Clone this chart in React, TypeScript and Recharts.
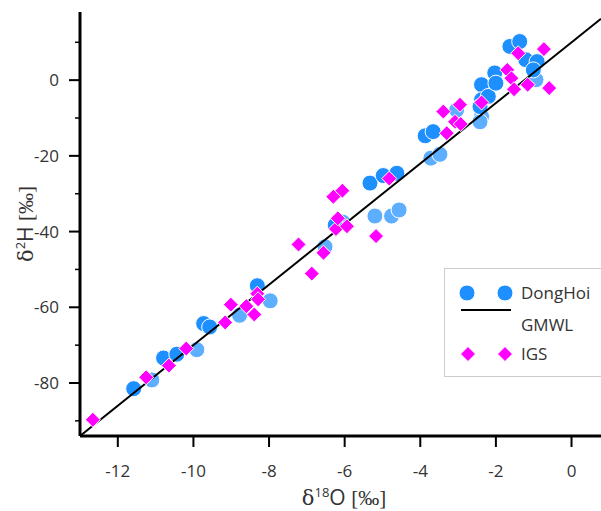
import { ScatterChart, Scatter, XAxis, YAxis, Legend } from "recharts";

// DongHoi (dark points)
const dongHoiX = [-11.58, -10.79, -10.44, -9.73, -9.57, -8.31, -6.25, -5.33, -4.98, -4.62, -3.87, -3.66, -2.38, -2.38, -2.2, -2.03, -2.0, -1.63, -1.37, -1.21, -0.91, -1.01, -2.42];
const dongHoiY = [-81.5, -73.4, -72.4, -64.3, -65.2, -54.3, -38.3, -27.2, -25.2, -24.6, -14.7, -13.6, -1.2, -5.2, -4.3, 1.9, -0.8, 8.9, 10.2, 5.4, 4.9, 2.7, -7.0];

// DongHoi (light points)
const dongHoiLightX = [-11.1, -9.91, -8.78, -7.97, -6.05, -6.52, -5.2, -4.76, -4.56, -3.72, -3.48, -2.38, -2.42, -0.94, -3.04];
const dongHoiLightY = [-79.2, -71.2, -62.1, -58.3, -37.5, -44.0, -35.9, -35.9, -34.3, -20.6, -19.6, -9.6, -11.0, 0.1, -7.9];

// IGS
const igsX = [-12.66, -11.25, -10.65, -10.19, -9.16, -9.01, -8.6, -8.39, -8.31, -8.29, -7.22, -6.87, -6.56, -6.23, -6.18, -5.94, -6.3, -6.06, -5.17, -4.82, -3.39, -2.95, -3.08, -2.93, -3.3, -2.38, -1.7, -1.59, -1.52, -1.16, -0.59, -1.41, -0.73];
const igsY = [-89.7, -78.5, -75.4, -70.9, -64.0, -59.3, -59.7, -61.9, -56.4, -57.9, -43.4, -51.1, -45.6, -39.3, -36.5, -38.6, -30.8, -29.2, -41.2, -26.0, -8.3, -6.5, -11.0, -11.6, -14.0, -5.9, 2.7, 0.5, -2.4, -1.2, -2.1, 7.1, 8.2];

// GMWL end points
const gmwlX = [-13, 0.78];
const gmwlY = [-94, 16.2];

const xTicks = [-12, -10, -8, -6, -4, -2, 0];
const yTicks = [-90, -80, -70, -60, -50, -40, -30, -20, -10, 0, 10];
const yLabels = [-80, -60, -40, -20, 0];

const toPoints = (xs: number[], ys: number[]) => xs.map((x, i) => ({ x, y: ys[i] }));

const dongHoi = toPoints(dongHoiX, dongHoiY);
const dongHoiLight = toPoints(dongHoiLightX, dongHoiLightY);
const igs = toPoints(igsX, igsY);
const gmwl = toPoints(gmwlX, gmwlY);

const FONT = "'Open Sans', sans-serif";
const TEXT = "#333";
const BLUE = "#1E8FFF";
const LIGHT_BLUE = "#5EAEFF";
const MAGENTA = "#FF00FF";

const Circle = (fill: string) => (props: any) =>
  <circle cx={props.cx} cy={props.cy} r={8} fill={fill} stroke="#fff" strokeWidth={1} />;

const Diamond = (props: any) => {
  const { cx, cy } = props;
  const d = 7.5;
  return (
    <polygon
      points={`${cx},${cy - d} ${cx + d},${cy} ${cx},${cy + d} ${cx - d},${cy}`}
      fill={MAGENTA}
      stroke="#fff"
      strokeWidth={1}
    />
  );
};

const XTick = (props: any) => {
  const { x, y, payload } = props;
  return (
    <g>
      <line x1={x} y1={y} x2={x} y2={y + 11} stroke="#000" strokeWidth={2} />
      <text x={x} y={y + 41} textAnchor="middle" fontSize={17} fill={TEXT} fontFamily={FONT}>
        {payload.value}
      </text>
    </g>
  );
};

const YTick = (props: any) => {
  const { x, y, payload } = props;
  const major = yLabels.includes(payload.value);
  return (
    <g>
      <line x1={x - (major ? 11 : 5)} y1={y} x2={x} y2={y} stroke="#000" strokeWidth={major ? 2 : 1.5} />
      {major && (
        <text x={x - 21} y={y + 6} textAnchor="end" fontSize={17} fill={TEXT} fontFamily={FONT}>
          {payload.value}
        </text>
      )}
    </g>
  );
};

const LegendBox = () => (
  <svg width={170} height={110} style={{ display: "block" }}>
    <rect x={0.5} y={0.5} width={180} height={108} fill="#fff" stroke="#ccc" />
    <circle cx={23} cy={25} r={8} fill={BLUE} stroke="#fff" />
    <circle cx={61} cy={25} r={8} fill={BLUE} stroke="#fff" />
    <text x={77} y={31} fontSize={17} fill={TEXT} fontFamily={FONT}>DongHoi</text>
    <line x1={17} y1={42} x2={67} y2={42} stroke="#000" strokeWidth={2} />
    <text x={77} y={63} fontSize={17} fill={TEXT} fontFamily={FONT}>GMWL</text>
    <Diamond cx={24} cy={86} />
    <Diamond cx={61} cy={86} />
    <text x={77} y={92} fontSize={17} fill={TEXT} fontFamily={FONT}>IGS</text>
  </svg>
);

export default function App() {
  return (
    <div style={{ position: "absolute", left: 0, top: 0, width: 601, height: 511, background: "#fff", overflow: "hidden" }}>
      <ScatterChart width={601} height={511} margin={{ top: 12, right: 0, bottom: 0, left: 0 }}>
        <XAxis
          type="number"
          dataKey="x"
          domain={[-13, 0.78]}
          ticks={xTicks}
          height={75}
          axisLine={{ stroke: "#000", strokeWidth: 3 }}
          tickLine={false}
          tickSize={0}
          tickMargin={0}
          tick={<XTick />}
          allowDataOverflow
        />
        <YAxis
          type="number"
          dataKey="y"
          domain={[-94, 18]}
          ticks={yTicks}
          width={80}
          axisLine={{ stroke: "#000", strokeWidth: 3 }}
          tickLine={false}
          tickSize={0}
          tickMargin={0}
          tick={<YTick />}
          interval={0}
          allowDataOverflow
        />
        <Legend
          layout="vertical"
          align="center"
          verticalAlign="middle"
          wrapperStyle={{ left: 444, top: 268, width: 170, height: 110 }}
          content={() => <LegendBox />}
        />
        <Scatter name="DongHoi light" data={dongHoiLight} fill={LIGHT_BLUE} shape={Circle(LIGHT_BLUE)} isAnimationActive={false} />
        <Scatter name="DongHoi" data={dongHoi} fill={BLUE} shape={Circle(BLUE)} isAnimationActive={false} />
        <Scatter
          name="GMWL"
          data={gmwl}
          line={{ stroke: "#000", strokeWidth: 2 }}
          shape={() => <g />}
          isAnimationActive={false}
        />
        <Scatter name="IGS" data={igs} fill={MAGENTA} shape={Diamond} isAnimationActive={false} />
      </ScatterChart>
      <div
        style={{
          position: "absolute",
          left: 344,
          top: 497,
          transform: "translate(-50%, -50%)",
          fontSize: 21,
          color: TEXT,
          fontFamily: FONT,
          whiteSpace: "nowrap",
        }}
      >
        <span style={{ fontFamily: "'DejaVu Serif', serif" }}>δ</span>
        <sup style={{ fontSize: 13 }}>18</sup>O <span style={{ fontFamily: "'Liberation Serif', serif" }}>[‰]</span>
      </div>
      <div
        style={{
          position: "absolute",
          left: 25,
          top: 224,
          transform: "translate(-50%, -50%) rotate(-90deg)",
          fontSize: 21,
          color: TEXT,
          fontFamily: FONT,
          whiteSpace: "nowrap",
        }}
      >
        <span style={{ fontFamily: "'DejaVu Serif', serif" }}>δ</span>
        <sup style={{ fontSize: 13 }}>2</sup>H <span style={{ fontFamily: "'Liberation Serif', serif" }}>[‰]</span>
      </div>
    </div>
  );
}
